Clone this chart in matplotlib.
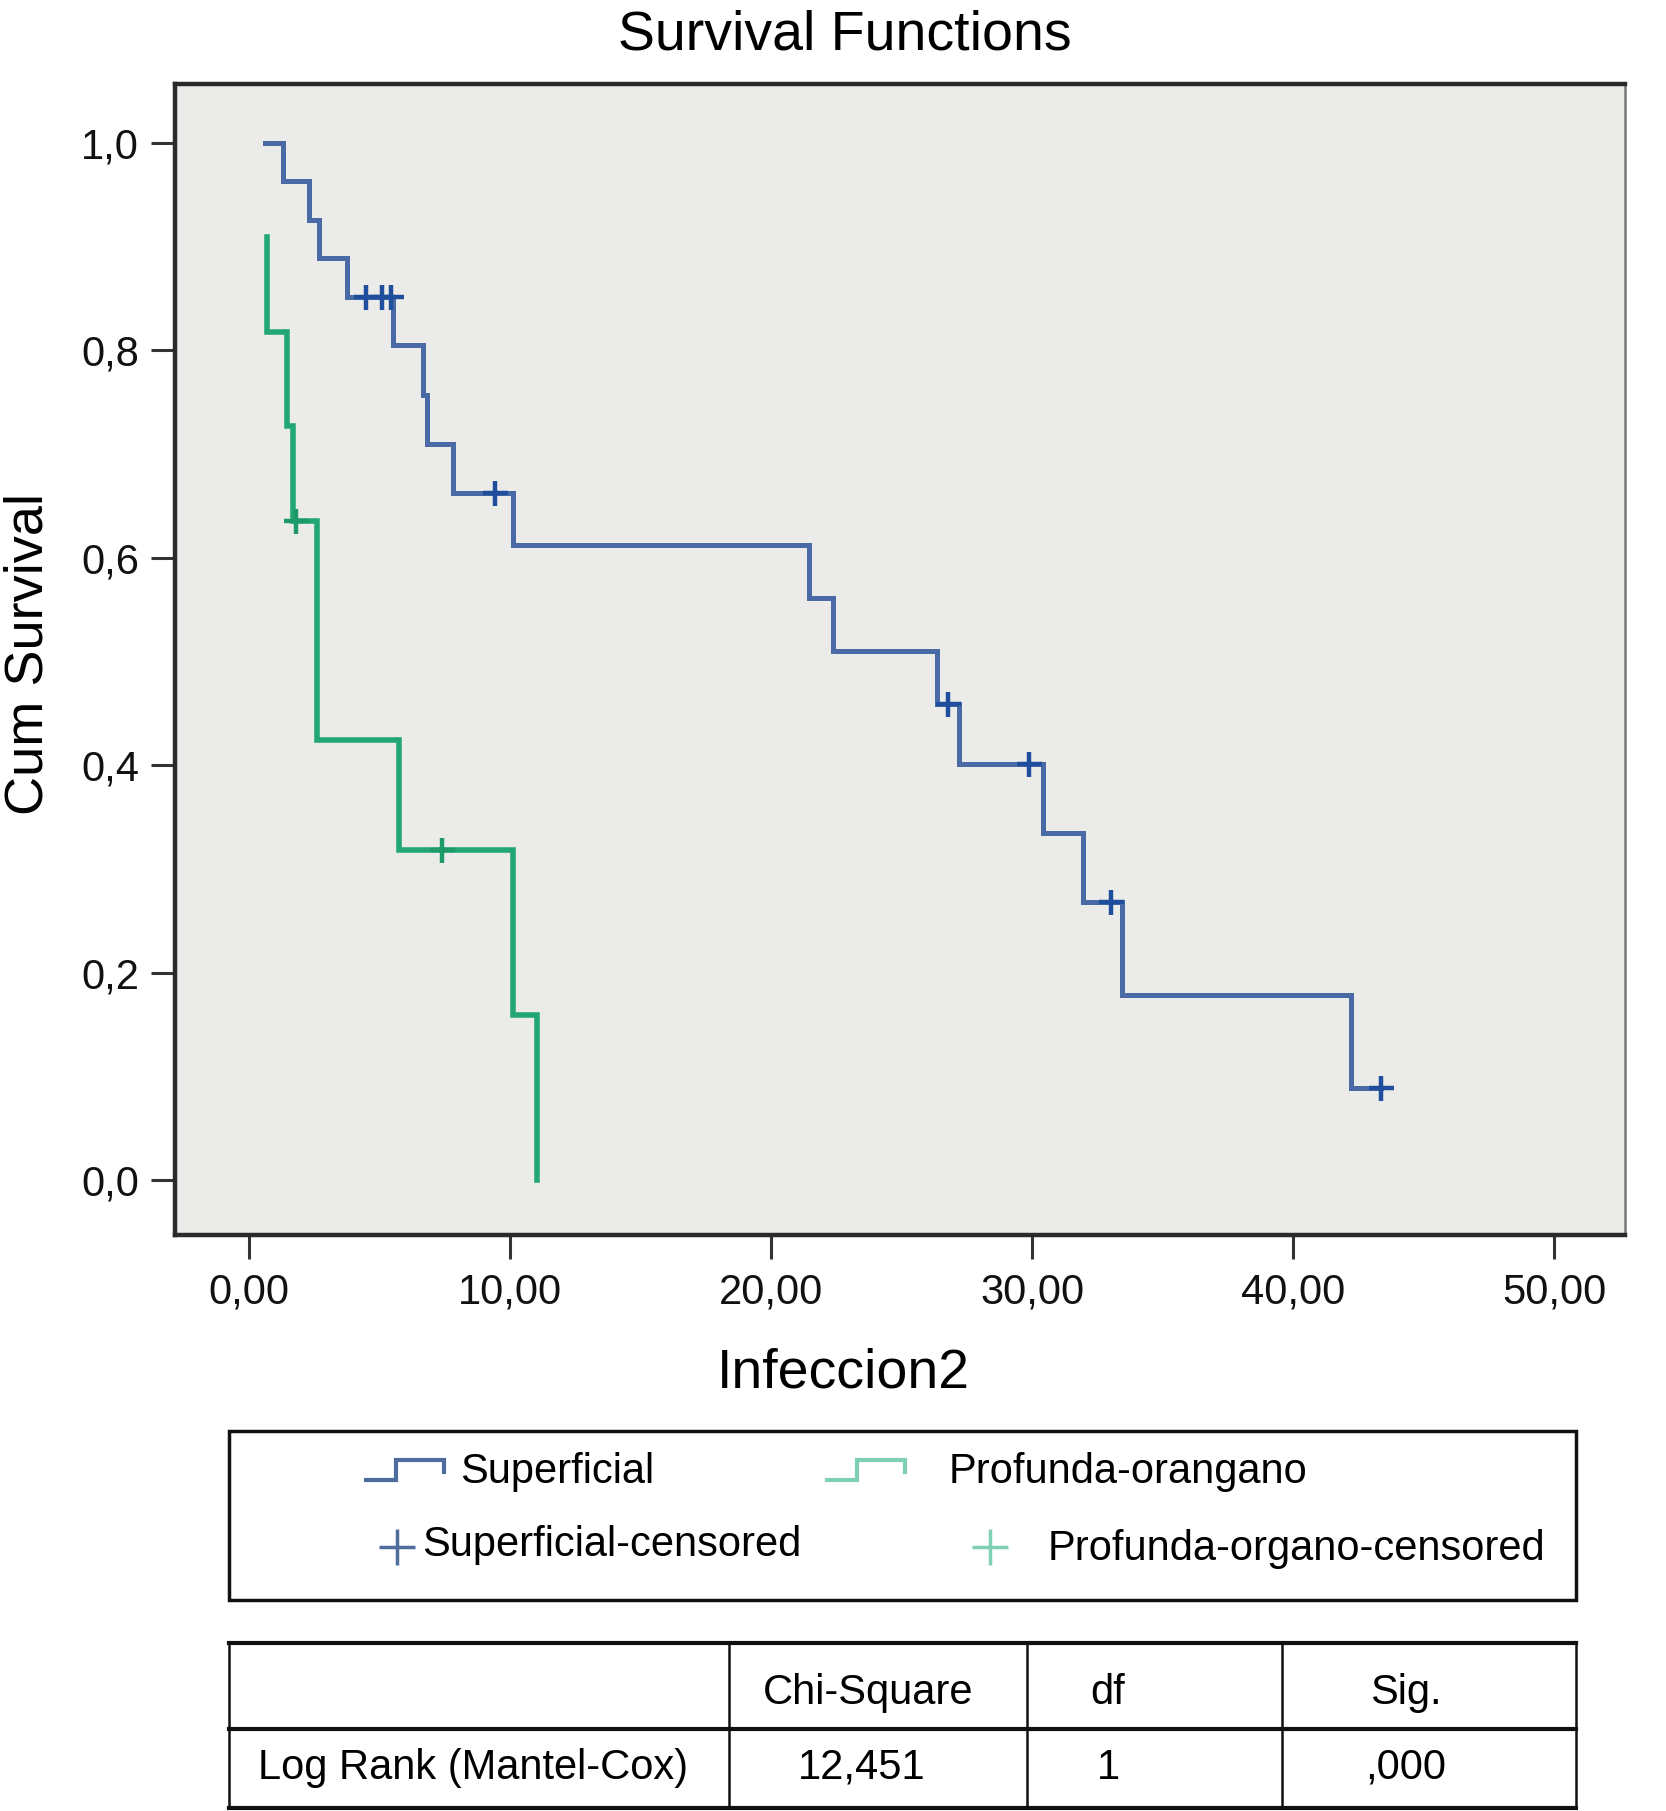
import matplotlib
matplotlib.use("Agg")
import matplotlib.pyplot as plt
from matplotlib.lines import Line2D
from matplotlib.patches import Rectangle

plt.rcParams['font.family'] = ['Liberation Sans', 'DejaVu Sans']

# ---------------- data ----------------
sup_times = [0.61, 1.31, 2.30, 2.68, 3.74, 5.53, 6.68, 6.81, 7.83, 10.13,
             21.46, 22.36, 26.35, 27.20, 30.43, 31.94, 33.45, 42.23, 43.37]
sup_surv = [1.000, 0.963, 0.926, 0.889, 0.852, 0.805, 0.757, 0.710, 0.663, 0.612,
            0.561, 0.510, 0.459, 0.401, 0.335, 0.268, 0.178, 0.089, 0.089]
sup_cens_t = [4.48, 5.08, 5.43, 9.43, 26.78, 29.88, 33.02, 43.37]
sup_cens_s = [0.852, 0.852, 0.852, 0.663, 0.459, 0.401, 0.268, 0.089]

prof_times = [0.70, 0.70, 1.44, 1.70, 2.59, 5.76, 10.13, 11.02]
prof_surv = [0.909, 0.818, 0.727, 0.636, 0.424, 0.318, 0.159, 0.000]
prof_cens_t = [1.80, 7.38]
prof_cens_s = [0.636, 0.318]

x_ticks = [0, 10, 20, 30, 40, 50]
x_tick_labels = ["0,00", "10,00", "20,00", "30,00", "40,00", "50,00"]
y_ticks = [0.0, 0.2, 0.4, 0.6, 0.8, 1.0]
y_tick_labels = ["0,0", "0,2", "0,4", "0,6", "0,8", "1,0"]

legend_labels = ["Superficial", "Profunda-orangano",
                 "Superficial-censored", "Profunda-organo-censored"]
table_header = ["", "Chi-Square", "df", "Sig."]
table_row = ["Log Rank (Mantel-Cox)", "12,451", "1", ",000"]

BLUE = "#4a6aa5"
BLUE_C = "#1f4f9c"
GREEN = "#22a673"
GREEN_C = "#1e9a68"
L_BLUE = "#4f6e9e"
L_GREEN = "#7fcfb2"

W, H = 1666, 1811
fig = plt.figure(figsize=(W / 100, H / 100), dpi=100)

def fx(px):
    return px / W

def fy(py):
    return 1 - py / H

ax = fig.add_axes([fx(175), fy(1235), fx(1625) - fx(175), fy(84) - fy(1235)])
ax.set_facecolor("#ebebe9")
ax.set_xlim(-2.835, 52.72)
ax.set_ylim(-0.053, 1.057)

ax.step(sup_times, sup_surv, where='post', color=BLUE, lw=3.6, solid_joinstyle='miter')
ax.step(prof_times, prof_surv, where='post', color=GREEN, lw=4.0, solid_joinstyle='miter')
ax.plot(sup_cens_t, sup_cens_s, ls='none', marker='+', ms=18, mew=3.2, color=BLUE_C)
ax.plot(prof_cens_t, prof_cens_s, ls='none', marker='+', ms=18, mew=3.2, color=GREEN_C)

ax.set_xticks(x_ticks)
ax.set_xticklabels(x_tick_labels)
ax.set_yticks(y_ticks)
ax.set_yticklabels(y_tick_labels)
ax.tick_params(axis='both', direction='out', length=17, width=2.2, color="#333333",
               labelsize=30, labelcolor="#111111")
ax.tick_params(axis='x', pad=10)
ax.tick_params(axis='y', pad=9)

for side in ['left', 'top', 'bottom']:
    ax.spines[side].set_linewidth(3.2)
    ax.spines[side].set_color("#2a2a2a")
ax.spines['right'].set_linewidth(1.8)
ax.spines['right'].set_color("#777777")

fig.text(fx(845), fy(35), "Survival Functions", ha='center', va='center', fontsize=40)
fig.text(fx(29), fy(654), "Cum Survival", ha='center', va='center', rotation=90, fontsize=39)
fig.text(fx(843), fy(1373), "Infeccion2", ha='center', va='center', fontsize=40)

# ---------------- legend box ----------------
fig.patches.append(Rectangle((fx(229), fy(1600)), fx(1576) - fx(229), fy(1431) - fy(1600),
                             transform=fig.transFigure, fill=False, lw=2.5, ec="#111111"))

def step_symbol(x0, yc, color):
    xs = [x0, x0 + 30, x0 + 30, x0 + 78, x0 + 78]
    ys = [yc + 10, yc + 10, yc - 10, yc - 10, yc + 2]
    fig.lines.append(Line2D([fx(v) for v in xs], [fy(v) for v in ys],
                            transform=fig.transFigure, color=color, lw=3,
                            solid_joinstyle='miter'))

step_symbol(366, 1470, L_BLUE)
fig.text(fx(460), fy(1472), legend_labels[0], ha='left', va='center', fontsize=30)
step_symbol(827, 1470, L_GREEN)
fig.text(fx(949), fy(1472), legend_labels[1], ha='left', va='center', fontsize=30)

fig.lines.append(Line2D([fx(397)], [fy(1547)], transform=fig.transFigure, ls='none',
                        marker='+', ms=26, mew=2.5, color=L_BLUE))
fig.text(fx(422), fy(1545), legend_labels[2], ha='left', va='center', fontsize=30)
fig.lines.append(Line2D([fx(990)], [fy(1547)], transform=fig.transFigure, ls='none',
                        marker='+', ms=26, mew=2.5, color=L_GREEN))
fig.text(fx(1048), fy(1549), legend_labels[3], ha='left', va='center', fontsize=30)

# ---------------- table ----------------
tx0, tx1 = 229, 1576
ty0, ty1, ty2 = 1643, 1729, 1808
for yy, lw in [(ty0, 3.0), (ty1, 3.0), (ty2, 3.0)]:
    fig.lines.append(Line2D([fx(tx0), fx(tx1)], [fy(yy), fy(yy)], transform=fig.transFigure,
                            color="#111111", lw=lw))
for xx in [tx0, 729, 1027, 1282, tx1]:
    fig.lines.append(Line2D([fx(xx), fx(xx)], [fy(ty0), fy(ty2)], transform=fig.transFigure,
                            color="#111111", lw=1.8))

col_centers = [None, 868, 1108, 1406]
for i in range(1, 4):
    fig.text(fx(col_centers[i]), fy(1693), table_header[i], ha='center', va='center', fontsize=30)
fig.text(fx(258), fy(1768), table_row[0], ha='left', va='center', fontsize=30)
row_centers = [None, 862, 1108, 1406]
for i in range(1, 4):
    fig.text(fx(row_centers[i]), fy(1768), table_row[i], ha='center', va='center', fontsize=30)

fig.savefig("out.png", dpi=100, facecolor="white")
